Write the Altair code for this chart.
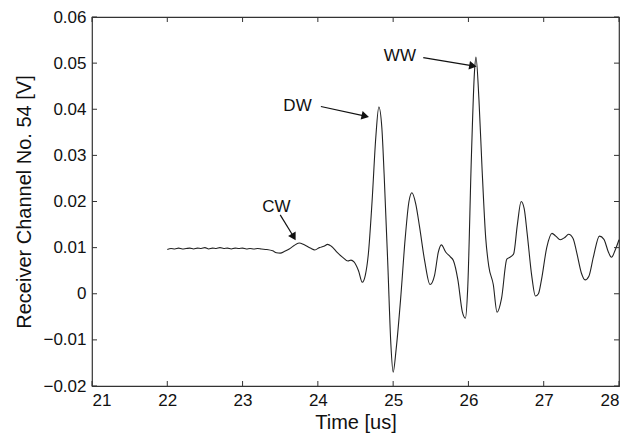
import altair as alt
import pandas as pd

# Signal trace
time_us = [22.00, 22.05, 22.10, 22.15, 22.20, 22.25, 22.30, 22.35, 22.40, 22.45,
           22.50, 22.55, 22.60, 22.65, 22.70, 22.75, 22.80, 22.85, 22.90, 22.95,
           23.00, 23.05, 23.10, 23.15, 23.20, 23.25, 23.32, 23.40, 23.45, 23.50,
           23.56, 23.62, 23.68, 23.75, 23.82, 23.90, 23.96, 24.02, 24.08, 24.13,
           24.18, 24.26, 24.33, 24.40, 24.44, 24.48, 24.54, 24.59, 24.63, 24.67,
           24.72, 24.77, 24.81, 24.85, 24.88, 24.93, 24.97, 25.00, 25.04, 25.10,
           25.16, 25.21, 25.25, 25.30, 25.35, 25.42, 25.49, 25.55, 25.60, 25.64,
           25.70, 25.76, 25.80, 25.86, 25.92, 25.96, 25.99, 26.04, 26.08, 26.10,
           26.14, 26.18, 26.23, 26.27, 26.33, 26.38, 26.44, 26.51, 26.56, 26.60,
           26.65, 26.70, 26.74, 26.78, 26.84, 26.89, 26.93, 26.97, 27.04, 27.11,
           27.16, 27.22, 27.28, 27.33, 27.39, 27.44, 27.50, 27.55, 27.60, 27.66,
           27.74, 27.80, 27.86, 27.90, 27.95, 28.00]
volts = [0.0096, 0.0098, 0.0097, 0.0099, 0.0097, 0.0098, 0.0099, 0.0097, 0.0099, 0.0098,
         0.0100, 0.0097, 0.0099, 0.0098, 0.0100, 0.0098, 0.0099, 0.0097, 0.0099, 0.0098,
         0.0099, 0.0097, 0.0098, 0.0097, 0.0098, 0.0097, 0.0096, 0.0093, 0.0089, 0.0088,
         0.0092, 0.0097, 0.0104, 0.0110, 0.0106, 0.0099, 0.0095, 0.0100, 0.0103, 0.0107,
         0.0103, 0.0089, 0.0079, 0.0071, 0.0073, 0.0069, 0.0050, 0.0025, 0.0040, 0.0085,
         0.0200, 0.0340, 0.0405, 0.0360, 0.0260, 0.0060, -0.0110, -0.0170, -0.0120, -0.0010,
         0.0120, 0.0200, 0.0219, 0.0195, 0.0146, 0.0070, 0.0020, 0.0040, 0.0090, 0.0106,
         0.0090, 0.0080, 0.0072, 0.0030, -0.0040, -0.0053, 0.0010, 0.0300, 0.0480, 0.0513,
         0.0420, 0.0275, 0.0120, 0.0060, 0.0020, -0.0040, -0.0010, 0.0075, 0.0080, 0.0086,
         0.0150, 0.0200, 0.0185, 0.0131, 0.0040, -0.0005, 0.0000, 0.0030, 0.0100, 0.0131,
         0.0125, 0.0117, 0.0122, 0.0129, 0.0120, 0.0088, 0.0045, 0.0030, 0.0038, 0.0080,
         0.0125, 0.0118, 0.0090, 0.0079, 0.0095, 0.0117]

# Annotations
ann_labels = ["CW", "DW", "WW"]
ann_text_x = [23.45, 23.73, 25.09]
ann_text_y = [0.0189, 0.0406, 0.0515]
arrow_x0 = [23.50, 24.04, 25.40]
arrow_y0 = [0.0171, 0.0406, 0.0512]
arrow_x1 = [23.68, 24.63, 26.06]
arrow_y1 = [0.0123, 0.0385, 0.0494]
arrow_angle = [60, 13, 10]

x_ticks = [21, 22, 23, 24, 25, 26, 27, 28]
y_ticks = [-0.02, -0.01, 0, 0.01, 0.02, 0.03, 0.04, 0.05, 0.06]

W, H = 527, 369
FONT = "Liberation Sans"

sig = pd.DataFrame({"t": time_us, "v": volts})
ann = pd.DataFrame({"label": ann_labels, "tx": ann_text_x, "ty": ann_text_y,
                    "x0": arrow_x0, "y0": arrow_y0, "x1": arrow_x1, "y1": arrow_y1,
                    "ang": arrow_angle})
xt = pd.DataFrame({"t": x_ticks})
yt = pd.DataFrame({"v": y_ticks})

xs = alt.Scale(domain=[21, 28], nice=False)
ys = alt.Scale(domain=[-0.02, 0.06], nice=False)

xaxis = alt.Axis(title="Time [us]", values=x_ticks, format="d", ticks=False,
                 domain=False, grid=False, labelPadding=6, titlePadding=4)
yaxis = alt.Axis(title="Receiver Channel No. 54 [V]", values=y_ticks, format="~g",
                 ticks=False, domain=False, grid=False, labelPadding=6, titlePadding=8)

line = alt.Chart(sig).mark_line(color="#222222", strokeWidth=1.1, interpolate="monotone").encode(
    x=alt.X("t:Q", scale=xs, axis=xaxis),
    y=alt.Y("v:Q", scale=ys, axis=yaxis),
)

arrows = alt.Chart(ann).mark_rule(color="#111111", strokeWidth=1.2).encode(
    x=alt.X("x0:Q", scale=xs), y=alt.Y("y0:Q", scale=ys),
    x2="x1:Q", y2="y1:Q",
)
heads = alt.Chart(ann).mark_point(shape="triangle-right", filled=True, color="#111111",
                                  size=75, opacity=1).encode(
    x=alt.X("x1:Q", scale=xs), y=alt.Y("y1:Q", scale=ys),
    angle=alt.Angle("ang:Q", scale=None),
)
labels = alt.Chart(ann).mark_text(font=FONT, fontSize=17, color="#111111").encode(
    x=alt.X("tx:Q", scale=xs), y=alt.Y("ty:Q", scale=ys), text="label:N",
)

tick_len = 5
xt_bottom = alt.Chart(xt).mark_rule(color="#333333").encode(
    x=alt.X("t:Q", scale=xs), y=alt.value(H), y2=alt.value(H - tick_len))
xt_top = alt.Chart(xt).mark_rule(color="#333333").encode(
    x=alt.X("t:Q", scale=xs), y=alt.value(0), y2=alt.value(tick_len))
yt_left = alt.Chart(yt).mark_rule(color="#333333").encode(
    y=alt.Y("v:Q", scale=ys), x=alt.value(0), x2=alt.value(tick_len))
yt_right = alt.Chart(yt).mark_rule(color="#333333").encode(
    y=alt.Y("v:Q", scale=ys), x=alt.value(W - tick_len), x2=alt.value(W))

chart = alt.layer(line, xt_bottom, xt_top, yt_left, yt_right, arrows, heads, labels).properties(
    width=W, height=H,
    autosize=alt.AutoSizeParams(type="none"),
    padding={"left": 84, "top": 9, "right": 12, "bottom": 50},
    background="white",
).configure_view(stroke="#333333", strokeWidth=1.2).configure_axis(
    labelFont=FONT, titleFont=FONT, labelFontSize=17, titleFontSize=20,
    labelColor="#111111", titleColor="#111111", titleFontWeight="normal",
)

chart.save("out.html", embed_options={"renderer": "svg", "actions": False})
